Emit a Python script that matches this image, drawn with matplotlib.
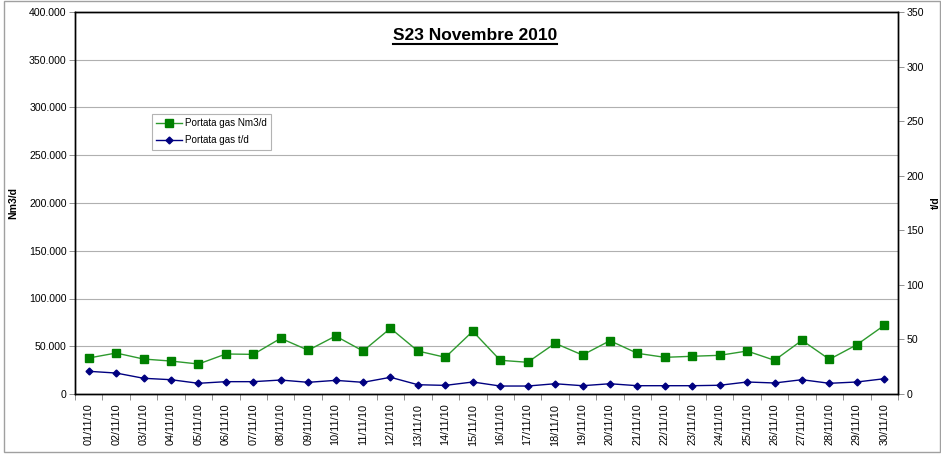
import matplotlib
matplotlib.use("Agg")
import matplotlib.pyplot as plt
from matplotlib.lines import Line2D
from matplotlib.patches import Rectangle
from matplotlib.ticker import FuncFormatter, FixedLocator

plt.rcParams['font.family'] = ['Liberation Sans', 'DejaVu Sans']

# Data
days = ["%02d/11/10" % d for d in range(1, 31)]
portata_nm3 = [37700, 42900, 36600, 34500, 31400, 41900, 41500, 58300, 45800, 60700,
               45000, 68800, 45000, 38400, 65700, 35300, 33200, 53100, 40800, 55800,
               42600, 38400, 39500, 40500, 45000, 35300, 56200, 36300, 51600, 71900]
portata_t = [20.8, 19.2, 14.4, 13.1, 9.8, 11.3, 11.3, 12.8, 10.7, 12.5,
             10.7, 15.3, 8.5, 7.9, 11.0, 7.3, 7.3, 9.4, 7.6, 9.4,
             7.6, 7.6, 7.6, 8.0, 11.0, 10.1, 13.1, 9.8, 11.0, 14.0]

W, H = 941, 455
fig = plt.figure(figsize=(W / 100, H / 100), dpi=100)
ax = fig.add_axes([75 / W, 1 - 394 / H, 823 / W, 382 / H])
ax2 = ax.twinx()

x = list(range(len(days)))

# grid
ax.set_ylim(0, 400000)
ax.set_yticks(range(0, 400001, 50000))
ax.yaxis.set_major_formatter(FuncFormatter(lambda v, p: "0" if v == 0 else f"{int(v):,}".replace(",", ".")))
ax.grid(axis='y', color='#b0b0b0', linewidth=0.8)
ax.set_axisbelow(True)

ax.plot(x, portata_nm3, color='#2e9a2e', linewidth=1.0, marker='s', markersize=6,
        markerfacecolor='#008000', markeredgecolor='#008000', label='Portata gas Nm3/d', zorder=3)
ax2.plot(x, portata_t, color='#000080', linewidth=1.0, marker='D', markersize=3.5,
         markerfacecolor='#000080', markeredgecolor='#000080', label='Portata gas t/d', zorder=3)

ax.set_xlim(-0.5, len(days) - 0.5)
ax.set_xticks(x)
ax.set_xticklabels(days, rotation=90, fontsize=7.8)
ax.tick_params(axis='x', which='major', length=0, pad=7)
ax.xaxis.set_minor_locator(FixedLocator([i + 0.5 for i in range(-1, len(days))]))
ax.tick_params(axis='x', which='minor', length=4, width=0.6, color='#808080', direction='out')

ax.tick_params(axis='y', labelsize=7.6, length=4, width=0.6, color='#808080', pad=2)
ax2.set_ylim(0, 350)
ax2.set_yticks(range(0, 351, 50))
ax2.tick_params(axis='y', labelsize=7.6, length=4, width=0.6, color='#808080', pad=2)

for a in (ax, ax2):
    for s in a.spines.values():
        s.set_linewidth(1.0)
        s.set_color('black')

ax.set_ylabel("Nm3/d", fontsize=7.6, fontweight='bold')
ax.yaxis.set_label_coords((18 - 75) / 823, 0.5)
ax2.set_ylabel("t/d", fontsize=7.6, fontweight='bold', rotation=90)
ax2.yaxis.set_label_coords((931 - 75) / 823, 0.5)

# legend
h1, l1 = ax.get_legend_handles_labels()
h2, l2 = ax2.get_legend_handles_labels()
leg = ax2.legend(h1 + h2, l1 + l2, loc='upper left', bbox_to_anchor=(77 / 823, (394 - 114) / 382),
                 borderaxespad=0, fontsize=7.1, frameon=True, fancybox=False,
                 edgecolor='#a0a0a0', handlelength=2.6, handletextpad=0.3,
                 borderpad=0.45, labelspacing=0.7)
leg.get_frame().set_linewidth(0.8)

# title with underline
title = fig.text(475 / W, 1 - 35 / H, "S23 Novembre 2010", fontsize=12.5, fontweight='bold',
                 ha='center', va='center')
fig.canvas.draw()
bb = title.get_window_extent(renderer=fig.canvas.get_renderer())
uy = (bb.y0 - 1) / H
fig.add_artist(Line2D([bb.x0 / W, bb.x1 / W], [uy, uy], color='black', linewidth=1.5))

# outer chart border
fig.add_artist(Rectangle((4 / W, 1 - 452 / H), 936 / W, 451 / H, fill=False,
                         edgecolor='#a0a0a0', linewidth=1.0, transform=fig.transFigure))

fig.savefig("out.png", dpi=100)
